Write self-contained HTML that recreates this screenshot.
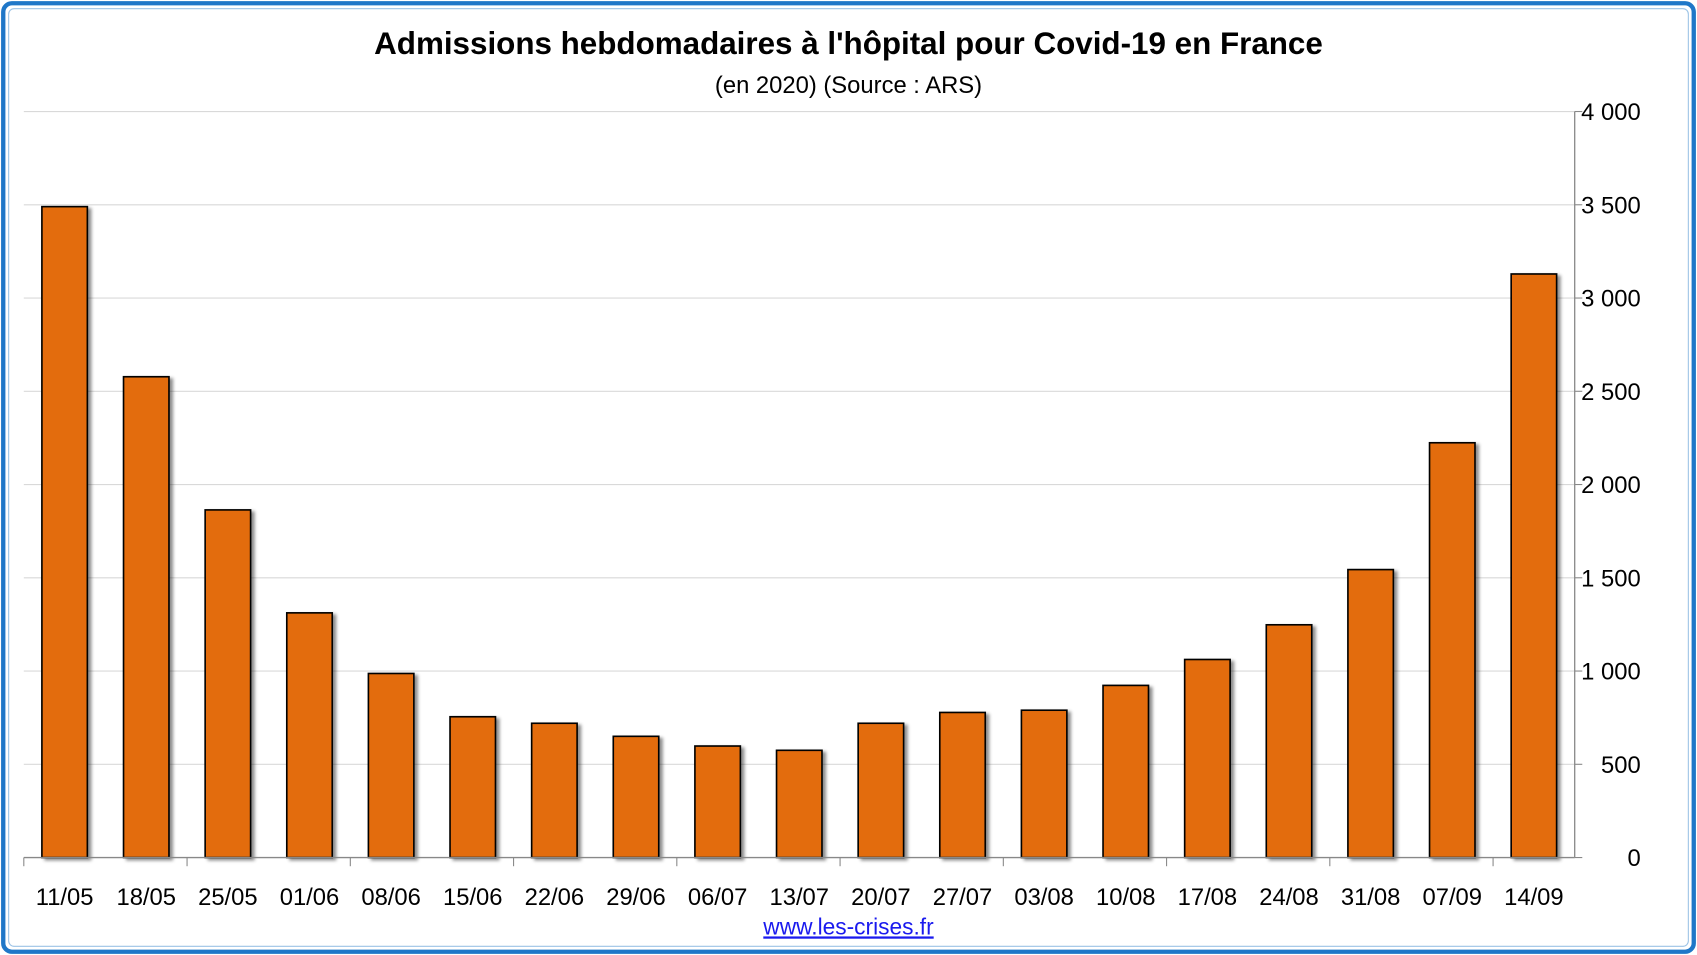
<!DOCTYPE html>
<html><head><meta charset="utf-8"><style>
html,body{margin:0;padding:0;background:#fff;}
svg{display:block;}
</style></head><body>
<svg width="1697" height="955" viewBox="0 0 1568 882" preserveAspectRatio="none" xmlns="http://www.w3.org/2000/svg" font-family="Liberation Sans, sans-serif">
<defs><filter id="sh" x="-20%" y="-5%" width="150%" height="115%"><feDropShadow dx="3" dy="2" stdDeviation="1.5" flood-color="#000" flood-opacity="0.45"/></filter></defs>
<rect x="3" y="3" width="1562" height="876" rx="8" fill="#fff" stroke="#1f77c8" stroke-width="4"/>
<rect x="8" y="8" width="1552" height="866" rx="5" fill="none" stroke="#9cc3e6" stroke-width="1"/>
<text x="784" y="50" text-anchor="middle" font-size="29" font-weight="bold" fill="#000">Admissions hebdomadaires à l'hôpital pour Covid-19 en France</text>
<text x="784" y="86" text-anchor="middle" font-size="22" fill="#000">(en 2020) (Source : ARS)</text>
<g id="grid"></g><g id="bars"></g><g id="axes"></g>
<text x="784" y="863" text-anchor="middle" font-size="21" fill="#1a1aee" text-decoration="underline">www.les-crises.fr</text>
</svg>
<script>
const categories=["11/05","18/05","25/05","01/06","08/06","15/06","22/06","29/06","06/07","13/07","20/07","27/07","03/08","10/08","17/08","24/08","31/08","07/09","14/09"];
const admissions=[3490,2578,1864,1312,987,755,720,650,598,575,720,778,790,923,1062,1248,1544,2224,3129];
const yTicks=[0,500,1000,1500,2000,2500,3000,3500,4000];
const yTickLabels=["0","500","1 000","1 500","2 000","2 500","3 000","3 500","4 000"];
const NS="http://www.w3.org/2000/svg";
const L=22,R=1455,Y0=792,Y1=103,MAX=4000;
const band=(R-L)/categories.length;
const y=v=>Y0-(v/MAX)*(Y0-Y1);
const x=i=>L+band*(i+0.5);
function mk(t,a,p,txt){const e=document.createElementNS(NS,t);for(const k in a)e.setAttribute(k,a[k]);if(txt!==undefined)e.textContent=txt;document.getElementById(p).appendChild(e);return e;}
yTicks.forEach((v,i)=>{
 if(v>0){const g=mk('line',{x1:L,x2:R,y1:y(v),y2:y(v),stroke:'#d9d9d9','stroke-width':1},'grid');
 
 }
 const t=mk('line',{x1:R,x2:R+7,y1:y(v),y2:y(v),stroke:'#888'},'axes');
 
 
 const l=mk('text',{x:1516,y:y(v)+8,'text-anchor':'end','font-size':22,fill:'#000'},'axes',yTickLabels[i]);
 
 
});
admissions.forEach((v,i)=>{
 const w=42;
 const b=mk('rect',{x:x(i)-w/2,y:y(v),width:w,height:Y0-y(v),fill:'#e36c0a',stroke:'#000','stroke-width':1.5,filter:'url(#sh)'},'bars');
 
 
 const l=mk('text',{x:x(i),y:836,'text-anchor':'middle','font-size':22,fill:'#000'},'axes',categories[i]);
 
 
});
for(let i=0;i<=categories.length;i+=2){
 const t=mk('line',{x1:L+band*i,x2:L+band*i,y1:Y0,y2:Y0+8,stroke:'#888'},'axes');
 
 
}
const xa=mk('line',{x1:L,x2:R,y1:Y0,y2:Y0,stroke:'#888','stroke-width':1.2},'axes');


const ya=mk('line',{x1:R,x2:R,y1:Y1,y2:Y0,stroke:'#888','stroke-width':1.2},'axes');


</script>
</body></html>
